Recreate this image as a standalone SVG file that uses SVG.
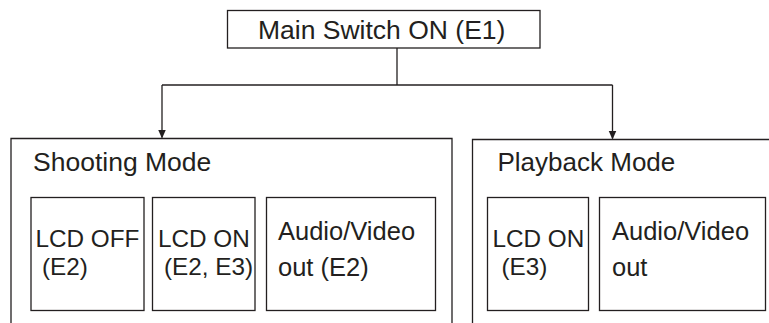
<svg xmlns="http://www.w3.org/2000/svg" width="769" height="323" viewBox="0 0 769 323">
<defs>
<style>
.box{fill:#fff;stroke:#231f20;stroke-width:1.3}
.frame{fill:none;stroke:#231f20;stroke-width:1.3}
.conn{fill:none;stroke:#231f20;stroke-width:1.3}
text{font-family:"Liberation Sans",Arial,Helvetica,sans-serif;fill:#231f20}
.big{font-size:26.5px}
.pb{font-size:26px}
.lcd{font-size:24.3px}
.av{font-size:25.5px}
</style>
<marker id="arr" markerWidth="8" markerHeight="10" refX="8" refY="4" orient="auto" markerUnits="userSpaceOnUse">
<path d="M0,0 L9,4 L0,8 Z" fill="#231f20"/>
</marker>
</defs>
<rect width="769" height="323" fill="#fff"/>
<g id="connectors">
<path class="conn" d="M397,48 V85"/>
<path class="conn" d="M162,85 H612.5"/>
<path class="conn" d="M162,85 V137.5" marker-end="url(#arr)"/>
<path class="conn" d="M612.5,85 V138.5" marker-end="url(#arr)"/>
</g>
<g id="main">
<rect class="box" x="227.5" y="10.5" width="312.5" height="37.5"/>
<text class="big" x="258" y="39">Main Switch ON (E1)</text>
</g>
<g id="shooting">
<path class="frame" d="M11,330 V138.5 H452 V330"/>
<text class="big" x="33" y="170.5">Shooting Mode</text>
</g>
<g id="lcd-off">
<rect class="box" x="31" y="197.5" width="113" height="113"/>
<text class="lcd" x="35.5" y="247">LCD OFF</text>
<text class="lcd" x="42" y="275">(E2)</text>
</g>
<g id="lcd-on-shoot">
<rect class="box" x="152.5" y="197.5" width="102.5" height="113"/>
<text class="lcd" x="158" y="247">LCD ON</text>
<text class="lcd" x="164" y="275">(E2, E3)</text>
</g>
<g id="av-shoot">
<rect class="box" x="266.5" y="197.5" width="169" height="113"/>
<text class="av" x="278" y="240">Audio/Video</text>
<text class="av" x="278" y="276">out (E2)</text>
</g>
<g id="playback">
<path class="frame" d="M472.5,330 V139.5 H780"/>
<text class="pb" x="497.5" y="170.5">Playback Mode</text>
</g>
<g id="lcd-on-play">
<rect class="box" x="487.5" y="197.5" width="101" height="113"/>
<text class="lcd" x="492.5" y="247">LCD ON</text>
<text class="lcd" x="501.5" y="275">(E3)</text>
</g>
<g id="av-play">
<rect class="box" x="599.5" y="197.5" width="166" height="113"/>
<text class="av" x="612" y="240">Audio/Video</text>
<text class="av" x="612" y="276">out</text>
</g>
</svg>
